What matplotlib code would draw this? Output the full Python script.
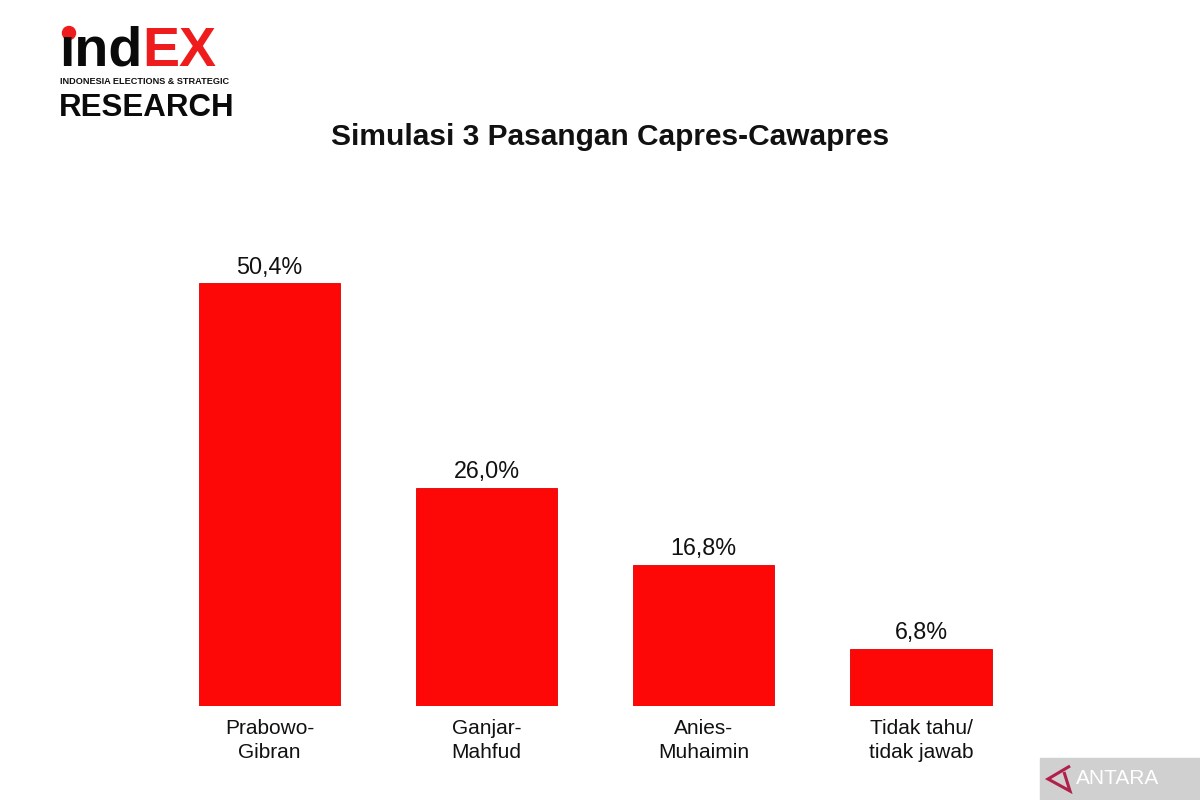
import matplotlib.pyplot as plt
from matplotlib.patches import Rectangle, Ellipse, Polygon

plt.rcParams['font.family'] = ['Liberation Sans', 'DejaVu Sans']

# data
pairs = ['Prabowo-\nGibran', 'Ganjar-\nMahfud', 'Anies-\nMuhaimin', 'Tidak tahu/\ntidak jawab']
shares = [50.4, 26.0, 16.8, 6.8]
share_labels = ['50,4%', '26,0%', '16,8%', '6,8%']

fig = plt.figure(figsize=(12, 8), dpi=100, facecolor='white')
ax = fig.add_axes([161 / 1200, 94 / 800, 868.5 / 1200, 503 / 800])

x = range(len(pairs))
bars = ax.bar(x, shares, width=0.65, color='#fe0707', edgecolor='#e00000', linewidth=0.6)

for b, lab in zip(bars, share_labels):
    ax.annotate(lab, (b.get_x() + b.get_width() / 2, b.get_height()),
                xytext=(0, 3.5), textcoords='offset points',
                ha='center', va='bottom', fontsize=16.8, color='#111')

ax.set_xlim(-0.5, 3.5)
ax.set_ylim(0, 60)
ax.set_xticks(list(x))
ax.set_xticklabels(pairs, fontsize=15, color='#111', linespacing=1.35)
ax.tick_params(axis='x', length=0, pad=9)
ax.set_yticks([])
for s in ax.spines.values():
    s.set_visible(False)

fig.text(0.508, 1 - 137 / 800, 'Simulasi 3 Pasangan Capres-Cawapres',
         ha='center', va='center', fontsize=21.5, fontweight='bold', color='#111')

# logo (top left)
fig.text(59 / 1200, 1 - 66 / 800, '\u0131nd', fontsize=40, fontweight='bold',
         color='#0a0a0a', ha='left', va='baseline')
fig.text(142 / 1200, 1 - 66 / 800, 'EX', fontsize=40, fontweight='bold',
         color='#ee1c1c', ha='left', va='baseline')
fig.patches.append(Ellipse((69 / 1200, 1 - 33 / 800), 13 / 1200, 13 / 800,
                           transform=fig.transFigure, color='#ee1c1c'))
fig.text(60 / 1200, 1 - 81 / 800, 'INDONESIA ELECTIONS & STRATEGIC', fontsize=6.6,
         fontweight='bold', color='#111', ha='left', va='center')
fig.text(59 / 1200, 1 - 116 / 800, 'RESEARCH', fontsize=22.5, fontweight='bold',
         color='#0a0a0a', ha='left', va='baseline')

# watermark (bottom right)
fig.patches.append(Rectangle((1040 / 1200, 0), 160 / 1200, 42 / 800,
                             transform=fig.transFigure, color='#d0d0d0'))
fig.patches.append(Polygon([(1070 / 1200, 1 - 766 / 800), (1048 / 1200, 1 - 779 / 800),
                            (1070 / 1200, 1 - 791 / 800), (1064 / 1200, 1 - 772 / 800)],
                           closed=False, fill=False, edgecolor='#b0204a', linewidth=2.2,
                           transform=fig.transFigure))
fig.text(1076 / 1200, 1 - 778 / 800, 'ANTARA', fontsize=15, color='white',
         ha='left', va='center')

fig.savefig('out.png', dpi=100, facecolor='white')
